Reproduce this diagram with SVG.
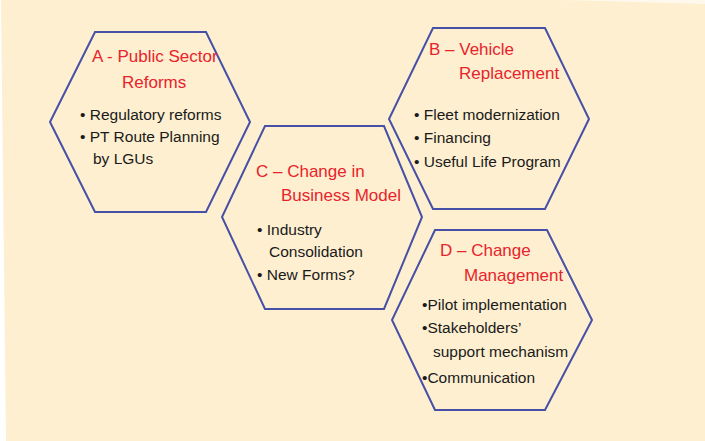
<svg xmlns="http://www.w3.org/2000/svg" width="705" height="441" viewBox="0 0 705 441">
<style>
.hex{fill:none;stroke:#4550a6;stroke-width:2;stroke-linejoin:miter}
.t{font-family:"Liberation Sans",Arial,sans-serif;font-size:17px;fill:#e8232c}
.b{font-family:"Liberation Sans",Arial,sans-serif;font-size:15.5px;fill:#1a1a1a}
</style>
<rect width="705" height="441" fill="#fdefd0"/>
<polygon points="0,0 1,0 6,441 0,441" fill="#ffffff"/>
<polygon points="560,0 705,0 705,4" fill="#ffffff" opacity="0.6"/>
<g id="nodeA">
<polygon class="hex" points="95,32 206,32 250,122 206,212 95,212 50,122"/>
<text class="t" x="92" y="62">A - Public Sector</text>
<text class="t" x="122" y="88">Reforms</text>
<text class="b" x="80" y="120">• Regulatory reforms</text>
<text class="b" x="80" y="142">• PT Route Planning</text>
<text class="b" x="93" y="164">by LGUs</text>
</g>
<g id="nodeB">
<polygon class="hex" points="433,28 545,28 589,119 545,209 433,209 389,119"/>
<text class="t" x="429" y="55">B – Vehicle</text>
<text class="t" x="459" y="79">Replacement</text>
<text class="b" x="414" y="120">• Fleet modernization</text>
<text class="b" x="414" y="143">• Financing</text>
<text class="b" x="414" y="167">• Useful Life Program</text>
</g>
<g id="nodeC">
<polygon class="hex" points="265,126 384,126 422,217 384,309 265,309 222,217"/>
<text class="t" x="256" y="177">C – Change in</text>
<text class="t" x="281" y="201">Business Model</text>
<text class="b" x="257" y="235">• Industry</text>
<text class="b" x="269" y="257">Consolidation</text>
<text class="b" x="257" y="280">• New Forms?</text>
</g>
<g id="nodeD">
<polygon class="hex" points="435,230 547,230 592,320 545,410 435,410 392,320"/>
<text class="t" x="440" y="256">D – Change</text>
<text class="t" x="464" y="281">Management</text>
<text class="b" x="422" y="310">•Pilot implementation</text>
<text class="b" x="422" y="333">•Stakeholders’</text>
<text class="b" x="433" y="357">support mechanism</text>
<text class="b" x="422" y="383">•Communication</text>
</g>
<g id="connectors"></g>
</svg>
